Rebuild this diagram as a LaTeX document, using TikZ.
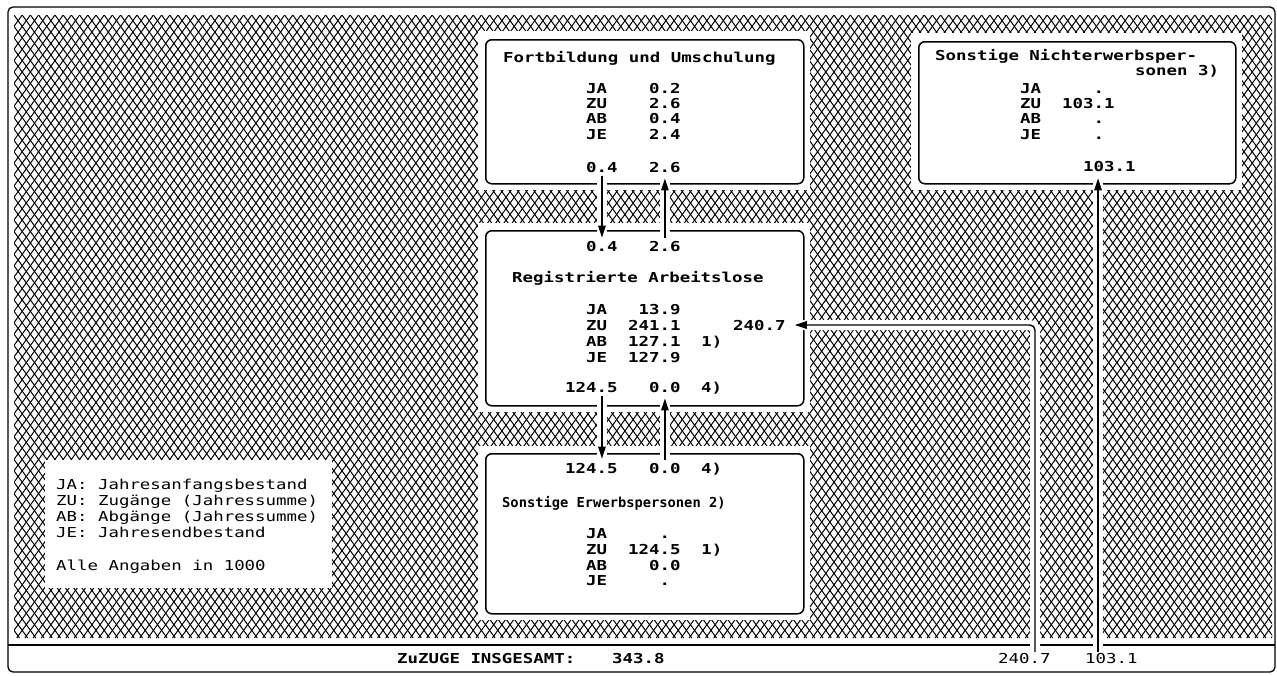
\documentclass[tikz,border=0pt]{standalone}
\usepackage{fontspec}
\newfontfamily\dmono[FakeStretch=1.27]{DejaVu Sans Mono}
\usetikzlibrary{arrows.meta}
\begin{document}
\begin{tikzpicture}[x=1pt,y=-1pt,
  frame/.style={draw, line width=1.3pt, rounded corners=5pt},
  boxst/.style={draw, line width=1.5pt, rounded corners=6pt, fill=white, anchor=north west, inner sep=0pt},
  hatch/.style={line width=1.0pt, black},
  tx/.style={font=\dmono\fontsize{13.7}{15}\selectfont, inner sep=0pt, anchor=base west},
  tb/.style={font=\dmono\bfseries\fontsize{13.7}{15}\selectfont, inner sep=0pt, anchor=base west},
  conn/.style={line width=1.4pt, -{Triangle[length=12pt,width=7.5pt]}},
  gap/.style={white, line width=10pt},
]
\useasboundingbox (0,0) rectangle (1277,675);
% outer frame
\draw[frame] (8,7) rectangle (1275,672);
% hatch
\begin{scope}
\clip (14,15) rectangle (1272,638);
\draw[hatch] \foreach \k in {-57,...,156} {(14+\k*8.2,15) -- ++(448.3,623)};
\draw[hatch] \foreach \k in {0,...,210} {(14+\k*8.2,15) -- ++(-448.3,623)};
\end{scope}
% white margins
\fill[white] (478,31) rectangle (810,190);
\fill[white] (478,223) rectangle (810,412);
\fill[white] (478,446) rectangle (810,620);
\fill[white] (911,33) rectangle (1242,190);
\fill[white] (45,460) rectangle (332,588);
% bottom line
\draw[line width=1.3pt] (8,645) -- (1275,645);
% boxes
\node[boxst, minimum width=318pt, minimum height=144pt] (b1) at (485,39) {};
\node[boxst, minimum width=318pt, minimum height=175pt] (b2) at (485,230) {};
\node[boxst, minimum width=318pt, minimum height=160pt] (b3) at (485,453) {};
\node[boxst, minimum width=317pt, minimum height=142pt] (b4) at (918,41) {};
% texts box 1
\node[tb] (t1) at (503,62) {Fortbildung und Umschulung};
\node[tb] (r1a) at (586,93) {JA~~~~0.2};
\node[tb] (r1b) at (586,108) {ZU~~~~2.6};
\node[tb] (r1c) at (586,123) {AB~~~~0.4};
\node[tb] (r1d) at (586,139) {JE~~~~2.4};
\node[tb] (n1p) at (586,172) {0.4};
\node[tb] (n1q) at (649,172) {2.6};
% box 2
\node[tb] (n2p) at (586,251) {0.4};
\node[tb] (n2q) at (649,251) {2.6};
\node[tb] (t2) at (512,282) {Registrierte Arbeitslose};
\node[tb] (r2a) at (586,314) {JA~~~13.9};
\node[tb] (r2b) at (586,330) {ZU~~241.1};
\node[tb] (l2407) at (733,330) {240.7};
\node[tb] (r2c) at (586,346) {AB~~127.1~~1)};
\node[tb] (r2d) at (586,362) {JE~~127.9};
\node[tb] (n2r) at (565,392) {124.5};
\node[tb] (n2s) at (649,392) {0.0};
\node[tb] (n2t) at (701,392) {4)};
% box 3
\node[tb] (n3r) at (565,473) {124.5};
\node[tb] (n3s) at (649,473) {0.0};
\node[tb] (n3t) at (701,473) {4)};
\node[tb] (t3) at (502,507) {\scalebox{0.79}[1]{Sonstige Erwerbspersonen 2)}};
\node[tb] (r3a) at (586,538) {JA~~~~~.};
\node[tb] (r3b) at (586,554) {ZU~~124.5~~1)};
\node[tb] (r3c) at (586,570) {AB~~~~0.0};
\node[tb] (r3d) at (586,585) {JE~~~~~.};
% box 4
\node[tb] (t4a) at (935,60) {Sonstige Nichterwerbsper-};
\node[tb] (t4b) at (1135,75) {sonen 3)};
\node[tb] (r4a) at (1020,93) {JA~~~~~.};
\node[tb] (r4b) at (1020,108) {ZU~~103.1};
\node[tb] (r4c) at (1020,123) {AB~~~~~.};
\node[tb] (r4d) at (1020,139) {JE~~~~~.};
\node[tb] (n4b) at (1083,171) {103.1};
% legend
\node[tx] (g1) at (56,489) {JA:~Jahresanfangsbestand};
\node[tx] (g2) at (56,505) {ZU:~Zugänge~(Jahressumme)};
\node[tx] (g3) at (56,521) {AB:~Abgänge~(Jahressumme)};
\node[tx] (g4) at (56,537) {JE:~Jahresendbestand};
\node[tx] (g5) at (56,570) {Alle~Angaben~in~1000};
% bottom strip
\node[tb] (z1) at (397,663) {ZuZUGE~INSGESAMT:};
\node[tb] (z2) at (612,663) {343.8};
\node[tx] (z3) at (998,663) {240.7};
\node[tx] (z4) at (1085,663) {103.1};
\coordinate (c1) at (1035,652);
\coordinate (c2) at (1098,652);
% connectors: white gaps
\draw[gap, shorten <=4pt, shorten >=3pt] (n1p.south) -- (n2p.north);
\draw[gap, shorten <=3pt, shorten >=6pt] (n2q.north) -- (n1q.south);
\draw[gap, shorten <=4pt, shorten >=4pt] (n2r.south -| n1p.south) -- (n3r.north -| n1p.south);
\draw[gap, shorten <=3pt, shorten >=6pt] (n3s.north) -- (n2s.south);
\draw[gap, rounded corners=5pt, shorten >=9pt] (c1) |- (l2407.east);
\draw[gap, shorten >=7pt] (c2) -- (c2 |- n4b.south);
% connectors
\draw[conn, shorten <=4pt, shorten >=3pt] (n1p.south) -- (n2p.north);
\draw[conn, shorten <=3pt, shorten >=6pt] (n2q.north) -- (n1q.south);
\draw[conn, shorten <=4pt, shorten >=4pt] (n2r.south -| n1p.south) -- (n3r.north -| n1p.south);
\draw[conn, shorten <=3pt, shorten >=6pt] (n3s.north) -- (n2s.south);
\draw[conn, rounded corners=5pt, shorten >=9pt] (c1) |- (l2407.east);
\draw[conn, shorten >=7pt] (c2) -- (c2 |- n4b.south);
\end{tikzpicture}
\end{document}
